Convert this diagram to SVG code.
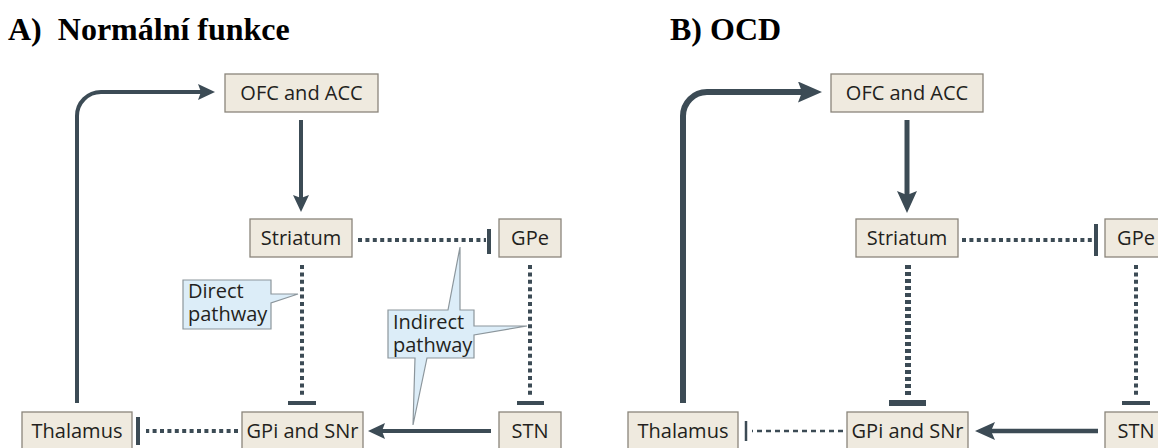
<svg xmlns="http://www.w3.org/2000/svg" width="1158" height="448" viewBox="0 0 1158 448">
  <style>
    .title { font-family: "Liberation Serif", "Times New Roman", serif; font-weight: bold; font-size: 32px; fill: #000; }
    .box { fill: #efeadf; stroke: #8a857b; stroke-width: 1.3; }
    .lbl { font-family: "Open Sans", "Noto Sans", sans-serif; font-size: 20px; fill: #231f20; text-anchor: middle; }
    .call { fill: #dcedf8; stroke: #8c969c; stroke-width: 1.2; stroke-linejoin: miter; }
    .ctext { font-family: "Open Sans", "Noto Sans", sans-serif; font-size: 20px; fill: #231f20; }
    .solid { fill: none; stroke: #3c4b55; stroke-width: 4; }
    .dot { fill: none; stroke: #3c4b55; stroke-width: 4; stroke-dasharray: 4 3.4; }
    .bar { fill: none; stroke: #3c4b55; stroke-width: 4; }
  </style>
  <defs>
    <radialGradient id="bg" cx="50%" cy="50%" r="70%">
      <stop offset="0" stop-color="#f4f1ea"/>
      <stop offset="1" stop-color="#e8e1d3"/>
    </radialGradient>
    <marker id="hA" markerUnits="userSpaceOnUse" markerWidth="17" markerHeight="16" viewBox="0 0 17 16" refX="5" refY="8" orient="auto">
      <path d="M0,0 L17,8 L0,16 L3,8 Z" fill="#3c4b55"/>
    </marker>
    <marker id="hBL" markerUnits="userSpaceOnUse" markerWidth="24" markerHeight="21" viewBox="0 0 24 21" refX="6" refY="10.5" orient="auto">
      <path d="M0,0 L24,10.5 L0,21 L4,10.5 Z" fill="#3c4b55"/>
    </marker>
    <marker id="hBD" markerUnits="userSpaceOnUse" markerWidth="22" markerHeight="20" viewBox="0 0 22 20" refX="6" refY="10" orient="auto">
      <path d="M0,0 L22,10 L0,20 L4,10 Z" fill="#3c4b55"/>
    </marker>
    <marker id="hBS" markerUnits="userSpaceOnUse" markerWidth="20" markerHeight="18" viewBox="0 0 20 18" refX="5" refY="9" orient="auto">
      <path d="M0,0 L20,9 L0,18 L4,9 Z" fill="#3c4b55"/>
    </marker>
  </defs>

  <rect width="1158" height="448" fill="#ffffff"/>

  <g id="titles">
    <text class="title" x="8" y="40" xml:space="preserve">A)  Normální funkce</text>
    <text class="title" x="670" y="40">B) OCD</text>
  </g>

  <!-- Panel A connectors -->
  <g id="connectors-A">
    <path class="solid" d="M77,403 V116 A24,24 0 0 1 101,92 H203" marker-end="url(#hA)"/>
    <path class="solid" d="M301,120 V200" marker-end="url(#hA)"/>
    <path class="dot" d="M358,240 H486"/>
    <path class="bar" d="M489,229 V254"/>
    <path class="dot" d="M302,265 V398"/>
    <path class="bar" d="M288,403 H316"/>
    <path class="dot" d="M530,265 V398"/>
    <path class="bar" d="M517,403 H544"/>
    <path class="solid" d="M491,431 H380" marker-end="url(#hA)"/>
    <path class="dot" d="M238,431 H146"/>
    <path class="bar" d="M138,417 V445"/>
  </g>

  <!-- Panel B connectors -->
  <g id="connectors-B">
    <path class="solid" style="stroke-width:6" d="M683,403 V116 A24,24 0 0 1 707,92 H804" marker-end="url(#hBL)"/>
    <path class="solid" style="stroke-width:5" d="M907,120 V197" marker-end="url(#hBD)"/>
    <path class="dot" d="M962,240 H1092"/>
    <path class="bar" d="M1096,224 V256"/>
    <path class="dot" style="stroke-width:6;stroke-dasharray:4 3" d="M908,265 V398"/>
    <path class="bar" style="stroke-width:6" d="M889,403 H926"/>
    <path class="dot" d="M1136,265 V398"/>
    <path class="bar" d="M1122,403 H1150"/>
    <path class="solid" style="stroke-width:4.5" d="M1098,431 H990" marker-end="url(#hBS)"/>
    <path class="dot" style="stroke-width:2.5;stroke-dasharray:5 4" d="M843,431 H752"/>
    <path class="bar" style="stroke-width:2.5" d="M746,421 V441"/>
  </g>

  <!-- Callouts (panel A) -->
  <g id="callout-direct">
    <path class="call" d="M183,280 H271 V294 H298 L271,303 V329 H183 Z"/>
    <text class="ctext" x="188" y="298">Direct</text>
    <text class="ctext" x="188" y="321">pathway</text>
  </g>
  <g id="callout-indirect">
    <path class="call" d="M388,310 H448 L460,247 L460,310 H474 V326 H527 L474,335 V358 H427 L413,425 L415,358 H388 Z"/>
    <text class="ctext" x="393" y="329">Indirect</text>
    <text class="ctext" x="393" y="352">pathway</text>
  </g>

  <!-- Panel A nodes -->
  <g id="A-ofc"><rect class="box" fill="url(#bg)" x="225" y="74" width="153" height="38"/><text class="lbl" x="301.5" y="100">OFC and ACC</text></g>
  <g id="A-striatum"><rect class="box" fill="url(#bg)" x="250" y="219" width="102" height="38"/><text class="lbl" x="301" y="245">Striatum</text></g>
  <g id="A-gpe"><rect class="box" fill="url(#bg)" x="499" y="219" width="62" height="38"/><text class="lbl" x="530" y="245">GPe</text></g>
  <g id="A-stn"><rect class="box" fill="url(#bg)" x="499" y="412" width="62" height="38"/><text class="lbl" x="530" y="438">STN</text></g>
  <g id="A-gpi"><rect class="box" fill="url(#bg)" x="242" y="412" width="121" height="38"/><text class="lbl" x="302.5" y="438">GPi and SNr</text></g>
  <g id="A-thalamus"><rect class="box" fill="url(#bg)" x="22" y="412" width="110" height="38"/><text class="lbl" x="77" y="438">Thalamus</text></g>

  <!-- Panel B nodes -->
  <g id="B-ofc"><rect class="box" fill="url(#bg)" x="831" y="74" width="152" height="38"/><text class="lbl" x="907" y="100">OFC and ACC</text></g>
  <g id="B-striatum"><rect class="box" fill="url(#bg)" x="856" y="219" width="102" height="38"/><text class="lbl" x="907" y="245">Striatum</text></g>
  <g id="B-gpe"><rect class="box" fill="url(#bg)" x="1105" y="219" width="62" height="38"/><text class="lbl" x="1136" y="245">GPe</text></g>
  <g id="B-stn"><rect class="box" fill="url(#bg)" x="1105" y="412" width="62" height="38"/><text class="lbl" x="1136" y="438">STN</text></g>
  <g id="B-gpi"><rect class="box" fill="url(#bg)" x="847" y="412" width="121" height="38"/><text class="lbl" x="907.5" y="438">GPi and SNr</text></g>
  <g id="B-thalamus"><rect class="box" fill="url(#bg)" x="628" y="412" width="110" height="38"/><text class="lbl" x="683" y="438">Thalamus</text></g>
</svg>
